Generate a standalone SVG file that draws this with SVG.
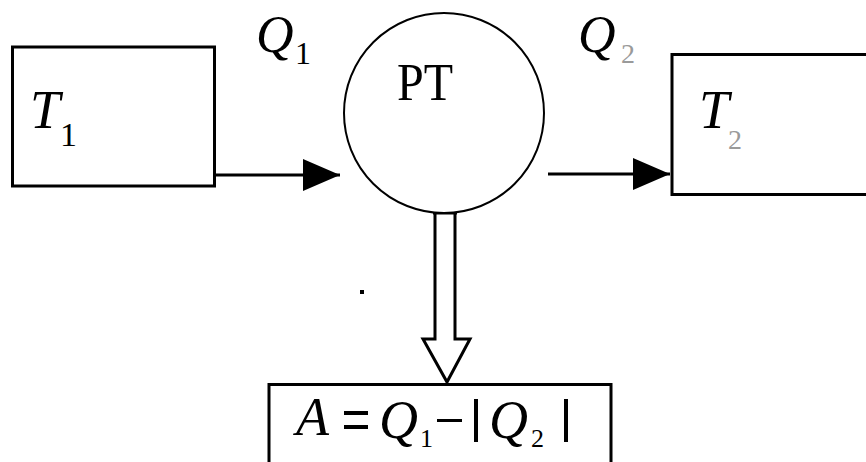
<svg xmlns="http://www.w3.org/2000/svg" width="866" height="462" viewBox="0 0 866 462">
<style>
.box{fill:#fff;stroke:#000;stroke-width:3}
.wire{fill:none;stroke:#000;stroke-width:3}
.tx{font-family:"Liberation Serif","Times New Roman",serif}
.it{font-style:italic;fill:#000}
.rm{fill:#000}
.sub{fill:#000}
.grey{fill:#9a9a9a}
</style>
<defs>
<marker id="ah" markerUnits="userSpaceOnUse" markerWidth="38" markerHeight="34" refX="37" refY="16" orient="auto">
<path d="M0,0 L37,16 L0,32 Z" fill="#000"/>
</marker>
</defs>
<rect width="866" height="462" fill="#fff"/>
<g id="connectors">
<line class="wire" x1="216" y1="175" x2="340" y2="175" marker-end="url(#ah)"/>
<line class="wire" x1="548" y1="174" x2="670" y2="174" marker-end="url(#ah)"/>
<path class="wire" d="M435,212 L435,339 L423,339 L447,382 L470,339 L455,339 L455,212"/>
<line class="wire" x1="433" y1="213" x2="457" y2="213" stroke-width="4"/>
</g>
<g id="T1">
<rect class="box" x="12.5" y="47" width="202" height="139"/>
<text class="tx it" x="30" y="128" font-size="54">T</text>
<text class="tx sub" x="60" y="146" font-size="34">1</text>
</g>
<g id="PT">
<circle cx="444" cy="113" r="100" fill="#fff" stroke="#000" stroke-width="2"/>
<text class="tx rm" x="397" y="100" font-size="52" textLength="56" lengthAdjust="spacingAndGlyphs">PT</text>
</g>
<g id="T2">
<rect class="box" x="672" y="54.5" width="200" height="140"/>
<text class="tx it" x="699" y="128" font-size="54">T</text>
<text class="tx sub grey" x="728" y="149" font-size="28">2</text>
</g>
<g id="labels">
<text class="tx it" x="256" y="52" font-size="52">Q</text>
<text class="tx sub" x="295" y="64" font-size="32">1</text>
<text class="tx it" x="578" y="52" font-size="52">Q</text>
<text class="tx sub grey" x="621" y="63" font-size="28">2</text>
</g>
<rect x="360" y="290" width="4" height="4" fill="#000"/>
<g id="result">
<rect class="box" x="269" y="384.5" width="342" height="120" stroke-width="4"/>
<text class="tx it" x="296" y="435" font-size="54">A</text>
<rect x="344" y="411" width="24" height="4" fill="#000"/>
<rect x="344" y="425" width="24" height="4" fill="#000"/>
<text class="tx it" x="379" y="438" font-size="54">Q</text>
<text class="tx sub" x="420" y="447" font-size="26" fill="#c8c8c8">1</text>
<rect x="437" y="419" width="25" height="3" fill="#000"/>
<rect x="474" y="399" width="4" height="43" fill="#000"/>
<text class="tx it" x="489" y="438" font-size="54">Q</text>
<text class="tx sub" x="531" y="447" font-size="26" fill="#b4b4b4">2</text>
<rect x="564" y="399" width="4" height="43" fill="#000"/>
</g>
</svg>
